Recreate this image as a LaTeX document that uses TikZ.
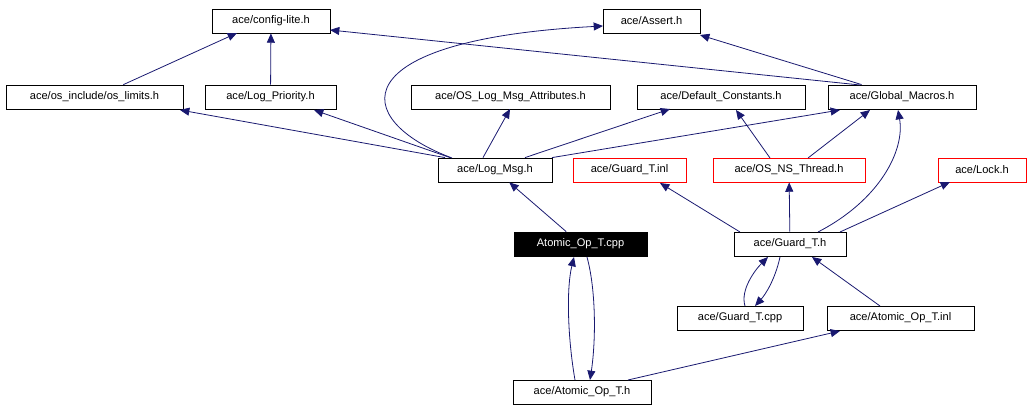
\documentclass[tikz,border=0pt]{standalone}
\usepackage{fontspec}
\setmainfont{Liberation Sans}
\usetikzlibrary{arrows.meta}
\begin{document}
\begin{tikzpicture}[x=0.75pt,y=-0.75pt,
  n/.style={draw=black,fill=white,minimum height=18pt,inner sep=0pt,font=\fontsize{8.3}{10}\selectfont,line width=0.6pt},
  r/.style={n,draw=red},
  e/.style={draw={rgb,255:red,25;green,25;blue,112},line width=0.6pt,-{Triangle[length=7pt,width=6pt,fill={rgb,255:red,25;green,25;blue,112}]}}]
\useasboundingbox (0,0) rectangle (1031,413);
\node[n,minimum width=88.5pt] (cfg) at (271,21) {ace/config-lite.h};
\node[n,minimum width=72.75pt] (ass) at (651.5,21) {ace/Assert.h};
\node[n,minimum width=132.75pt] (osl) at (94.5,97) {ace/os\_include/os\_limits.h};
\node[n,minimum width=98.25pt] (lp) at (270.5,97) {ace/Log\_Priority.h};
\node[n,minimum width=149.25pt] (olm) at (510.5,97) {ace/OS\_Log\_Msg\_Attributes.h};
\node[n,minimum width=126pt] (dc) at (721,97) {ace/Default\_Constants.h};
\node[n,minimum width=111pt] (gm) at (902,97) {ace/Global\_Macros.h};
\node[n,minimum width=85.5pt] (lm) at (495,170) {ace/Log\_Msg.h};
\node[r,minimum width=84.75pt] (gti) at (629.5,170) {ace/Guard\_T.inl};
\node[r,minimum width=114pt] (ns) at (789,170) {ace/OS\_NS\_Thread.h};
\node[r,minimum width=66pt] (lk) at (982,170) {ace/Lock.h};
\node[n,fill=black,text=white,minimum width=99.75pt] (aoc) at (580.5,244) {Atomic\_Op\_T.cpp};
\node[n,minimum width=84pt] (gth) at (790,244) {ace/Guard\_T.h};
\node[n,minimum width=94.5pt] (gtc) at (740,318) {ace/Guard\_T.cpp};
\node[n,minimum width=110.25pt] (aoi) at (900.5,318) {ace/Atomic\_Op\_T.inl};
\node[n,minimum width=103.5pt] (aoh) at (582,392) {ace/Atomic\_Op\_T.h};
\draw[e] (osl.north east) ++(-60,0) -- (237,33);
\draw[e] (lp) -- (cfg);
\draw[e] (860,85) -- (330,30);
\draw[e] (gm) -- (700,35);
\draw[e] (lm.north) ++(-50,0) -- (180,110);
\draw[e] (lm.north) ++(-45,0) -- (314,110);
\draw[e] (lm.north) ++(-12,0) -- (510,109);
\draw[e] (lm.north) ++(30,0) -- (670,109);
\draw[e] (lm.north) ++(57,0) -- (840,110);
\draw[e] (452,158) .. controls (350,120) and (340,40) .. (603,26);
\draw[e] (770,158) -- (736,110);
\draw[e] (808,158) -- (870,110);
\draw[e] (740,232) -- (660,183);
\draw[e] (gth) -- (ns);
\draw[e] (840,232) -- (950,182);
\draw[e] (818,232) .. controls (880,200) and (905,150) .. (898,110);
\draw[e] (aoc) -- (lm);
\draw[e] (575,380) .. controls (568,340) and (566,290) .. (574,257);
\draw[e] (587,257) .. controls (596,290) and (596,340) .. (590,380);
\draw[e] (745,306) .. controls (740,290) and (755,270) .. (768,257);
\draw[e] (780,257) .. controls (775,280) and (765,295) .. (755,306);
\draw[e] (880,306) -- (812,257);
\draw[e] (628,380) -- (840,331);
\end{tikzpicture}
\end{document}
